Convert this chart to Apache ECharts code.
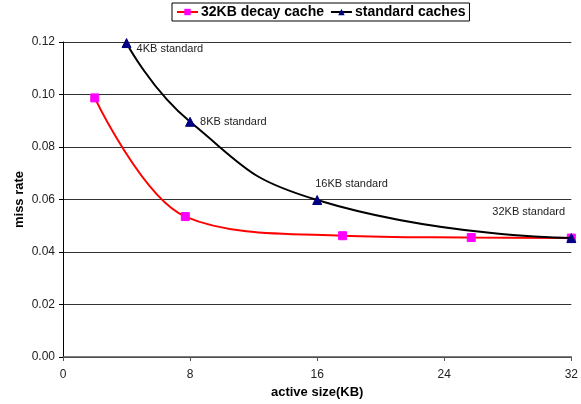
<!DOCTYPE html>
<html>
<head>
<meta charset="utf-8">
<script src="https://cdn.jsdelivr.net/npm/echarts@6/dist/echarts.min.js"></script>
<style>
  html, body { margin: 0; padding: 0; background: #fff; }
  #main { width: 581px; height: 404px; }
</style>
</head>
<body>
<div id="main"></div>
<script>
// data
var decayX = [2, 7.7, 17.6, 25.7, 32]
var decayY = [0.0987, 0.0535, 0.0462, 0.0455, 0.0453]
var stdX = [4, 8, 16, 32]
var stdY = [0.1196, 0.0896, 0.0598, 0.0453]
var stdLabels = ['4KB standard', '8KB standard', '16KB standard', '32KB standard']
var xTicks = [0, 8, 16, 24, 32]
var yTicks = [0, 0.02, 0.04, 0.06, 0.08, 0.10, 0.12]

var FONT = '"Liberation Sans", Arial, sans-serif'

// label offsets from the marker (label sits to the right by default)
var labelOffsets = [[0, 6], [0, 0], [-12, -16], [-89, -26]]

var decayData = decayX.map(function (x, i) { return [x, decayY[i]] })
var stdData = stdX.map(function (x, i) {
  return {
    value: [x, stdY[i]],
    label: {
      show: true,
      formatter: stdLabels[i],
      position: 'right',
      offset: labelOffsets[i],
      fontSize: 11,
      color: '#222',
      fontFamily: FONT
    }
  }
})

var myChart = echarts.init(document.getElementById('main'))
var option = {
  animation: false,
  textStyle: { fontFamily: FONT },
  legend: {
    top: 3,
    left: 172,
    itemGap: 6,
    itemWidth: 21,
    itemHeight: 8,
    padding: [2, 4, 2, 4],
    borderColor: '#000',
    borderWidth: 1,
    textStyle: { fontSize: 14, fontWeight: 'bold', color: '#000', fontFamily: FONT, padding: [0, 0, 0, -2] },
    data: ['32KB decay cache', 'standard caches']
  },
  grid: { left: 63, right: 9, top: 42, bottom: 47, containLabel: false },
  xAxis: {
    type: 'value',
    min: xTicks[0],
    max: xTicks[xTicks.length - 1],
    interval: 8,
    name: 'active size(KB)',
    nameLocation: 'middle',
    nameGap: 25,
    nameTextStyle: { fontSize: 13, fontWeight: 'bold', color: '#000', fontFamily: FONT },
    axisLine: { lineStyle: { color: '#555', width: 1.5 } },
    axisTick: { show: true, length: 4, lineStyle: { color: '#555' } },
    axisLabel: { fontSize: 12, color: '#222', margin: 12, fontFamily: FONT },
    splitLine: { show: false }
  },
  yAxis: {
    type: 'value',
    min: yTicks[0],
    max: yTicks[yTicks.length - 1],
    interval: 0.02,
    name: 'miss rate',
    nameLocation: 'middle',
    nameGap: 37,
    nameMoveOverlap: false,
    nameTextStyle: { fontSize: 13, fontWeight: 'bold', color: '#000', fontFamily: FONT },
    axisLine: { show: true, lineStyle: { color: '#000', width: 1 } },
    axisTick: { show: true, length: 4, inside: false, lineStyle: { color: '#000' } },
    axisLabel: {
      fontSize: 12, color: '#222', margin: 8, fontFamily: FONT,
      formatter: function (v) { return v.toFixed(2) }
    },
    splitLine: { show: true, lineStyle: { color: '#333', width: 1 } }
  },
  series: [
    {
      name: '32KB decay cache',
      type: 'line',
      smooth: 0.35,
      data: decayData,
      symbol: 'rect',
      symbolSize: 8,
      lineStyle: { color: '#ff0000', width: 2 },
      itemStyle: { color: '#ff00ff', borderColor: '#ff00ff' },
      z: 2
    },
    {
      name: 'standard caches',
      type: 'line',
      smooth: 0.5,
      data: stdData,
      symbol: 'triangle',
      symbolSize: 9,
      lineStyle: { color: '#000', width: 2 },
      itemStyle: { color: '#000080', borderColor: '#000080' },
      z: 3
    }
  ]
}
myChart.setOption(option)
</script>
</body>
</html>
